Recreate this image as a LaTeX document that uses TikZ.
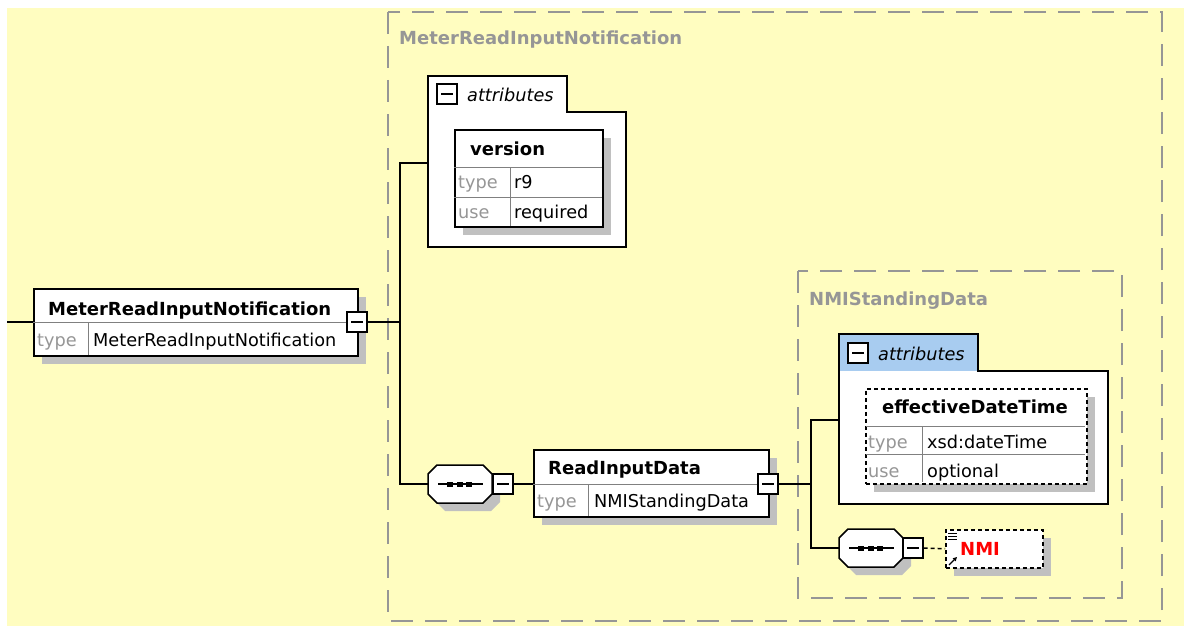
\documentclass[tikz,border=0pt]{standalone}
\usepackage{fontspec}
\setmainfont{DejaVu Sans}
\usetikzlibrary{shadows,arrows.meta}
\definecolor{bgy}{RGB}{255,253,192}
\definecolor{shadc}{RGB}{192,192,192}
\definecolor{tabblue}{RGB}{168,204,240}
\definecolor{dgray}{RGB}{150,150,150}
\definecolor{lgray}{RGB}{150,150,150}
\definecolor{nmired}{RGB}{255,0,0}
\newcommand{\octpath}[4]{(#1+9,#2) -- (#3-9,#2) -- (#3,#2+9) -- (#3,#4-9) -- (#3-9,#4) -- (#1+9,#4) -- (#1,#4-9) -- (#1,#2+9) -- cycle}
\begin{document}
\begin{tikzpicture}[x=1pt,y=-1pt,
  conn/.style={line width=1.5pt, black},
  outl/.style={draw=black, line width=1.5pt},
  box/.style={draw=black, fill=white, line width=1.5pt, inner sep=0pt, anchor=north west},
  dbox/.style={box, dash pattern=on 4pt off 3pt},
  shad/.style={drop shadow={shadow xshift=8pt, shadow yshift=-8pt, fill=shadc, opacity=1}},
  grp/.style={draw=dgray, line width=2pt, dash pattern=on 22pt off 12pt},
  inner/.style={draw=gray, line width=1pt},
  minus/.style={draw=black, fill=white, line width=1.3pt, inner sep=0pt, minimum size=20pt},
  anchorbox/.style={inner sep=0pt, minimum width=64pt, minimum height=38pt},
  tb/.style={font=\fontsize{18}{20}\selectfont\bfseries, inner sep=0pt, anchor=base west},
  tr/.style={font=\fontsize{17.7}{20}\selectfont, inner sep=0pt, anchor=base west},
  tg/.style={tr, text=lgray},
  ttl/.style={tb, text=dgray},
  ti/.style={font=\fontsize{17.7}{20}\selectfont\itshape, inner sep=0pt, anchor=base west}
]
\useasboundingbox (0,0) rectangle (1184,626);
\fill[white] (0,0) rectangle (1184,626);
\fill[bgy] (7,8) rectangle (1184,626);

% group boxes
\draw[grp] (388,12) rectangle (1162,621);
\node[ttl] (g1lab) at (399,45) {MeterReadInputNotification};
\draw[grp] (798,271) rectangle (1122,598);
\node[ttl] (g2lab) at (809,305) {NMIStandingData};

% main element
\node[box, shad, minimum width=324pt, minimum height=67pt] (main) at (33,288) {};
\draw[inner] (33,322) -- (357,322);
\draw[inner] (88,322) -- (88,355);
\node[tb] (maint) at (48,315) {MeterReadInputNotification};
\node[tg] (maintt) at (37,346) {type};
\node[tr] (maintv) at (93,346) {MeterReadInputNotification};
\node[minus] (mainminus) at (357,322) {\raisebox{-0.75pt}{\rule{12pt}{1.5pt}}};

% attributes 1
\draw[outl, fill=white] (428,76) -- (567,76) -- (567,112) -- (626,112) -- (626,247) -- (428,247) -- cycle;
\node[minus] (a1minus) at (447,94) {\raisebox{-0.75pt}{\rule{12pt}{1.5pt}}};
\node[ti] (a1lab) at (467,101) {attributes};
\node[box, shad, minimum width=148pt, minimum height=97pt] (ver) at (454,129) {};
\draw[inner] (454,167) -- (602,167);
\draw[inner] (454,197) -- (602,197);
\draw[inner] (510,167) -- (510,226);
\node[tb] (vert) at (470,155) {version};
\node[tg] (vertt) at (458,188) {type};
\node[tr] (vertv) at (514,188) {r9};
\node[tg] (verut) at (458,218) {use};
\node[tr] (veruv) at (514,218) {required};

% sequence 1
\fill[shadc] \octpath{436}{473}{500}{511};
\draw[outl, fill=white] \octpath{428}{465}{492}{503};
\node[anchorbox] (seq1) at (460,484) {};
\draw[line width=1.3pt] (438,484) -- (483,484);
\foreach \cx in {450,460,469} \fill (\cx-3,481.5) rectangle (\cx+3,486.5);
\node[minus] (seq1minus) at (503,484) {\raisebox{-0.75pt}{\rule{12pt}{1.5pt}}};

% ReadInputData
\node[box, shad, minimum width=235pt, minimum height=67pt] (rid) at (533,449) {};
\draw[inner] (533,484) -- (768,484);
\draw[inner] (588,484) -- (588,516);
\node[tb] (ridt) at (548,474) {ReadInputData};
\node[tg] (ridtt) at (537,507) {type};
\node[tr] (ridtv) at (594,507) {NMIStandingData};
\node[minus] (ridminus) at (768,484) {\raisebox{-0.75pt}{\rule{12pt}{1.5pt}}};

% attributes 2
\fill[white] (839,334) -- (978,334) -- (978,371) -- (1108,371) -- (1108,504) -- (839,504) -- cycle;
\fill[tabblue] (839,334) rectangle (978,371);
\draw[outl] (839,334) -- (978,334) -- (978,371) -- (1108,371) -- (1108,504) -- (839,504) -- cycle;
\node[minus] (a2minus) at (858,353) {\raisebox{-0.75pt}{\rule{12pt}{1.5pt}}};
\node[ti] (a2lab) at (878,360) {attributes};
\node[dbox, shad, minimum width=221pt, minimum height=95pt] (edt) at (865,388) {};
\draw[inner] (866,426) -- (1085,426);
\draw[inner] (866,454) -- (1085,454);
\draw[inner] (922,426) -- (922,482);
\node[tb] (edtt) at (882,413) {effectiveDateTime};
\node[tg] (edttt) at (868,448) {type};
\node[tr] (edttv) at (927,448) {xsd:dateTime};
\node[tg] (edtut) at (868,477) {use};
\node[tr] (edtuv) at (927,477) {optional};

% sequence 2
\fill[shadc] \octpath{847}{537}{911}{575};
\draw[outl, fill=white] \octpath{839}{529}{903}{567};
\node[anchorbox] (seq2) at (871,548) {};
\draw[line width=1.3pt] (849,548) -- (894,548);
\foreach \cx in {861,871,880} \fill (\cx-3,545.5) rectangle (\cx+3,550.5);
\node[minus] (seq2minus) at (913,548) {\raisebox{-0.75pt}{\rule{12pt}{1.5pt}}};

% NMI
\node[dbox, shad, minimum width=97pt, minimum height=38pt] (nmi) at (945,529) {};
\foreach \ly in {533,536,539} \draw[line width=1pt] (948,\ly) -- (957,\ly);
\draw[line width=1.3pt, -{Triangle[length=4pt,width=4pt]}] (949,565) -- (957,557);
\node[tb, text=nmired] (nmit) at (960,555) {NMI};

% connectors
\coordinate (lin) at (7,322);
\coordinate (j1) at (400,322);
\coordinate (a1in) at (428,163);
\coordinate (j2) at (811,484);
\coordinate (a2in) at (839,420);
\draw[conn] (lin) -- (main.west |- lin);
\draw[conn] (mainminus.east) -- (j1);
\draw[conn] (a1in) -| (j1) |- (seq1.west);
\draw[conn] (seq1minus.east) -- (seq1minus.east -| rid.west);
\draw[conn] (ridminus.east) -- (j2);
\draw[conn] (a2in) -| (j2) |- (seq2.west);
\draw[conn, dash pattern=on 4pt off 3pt] (seq2minus.east) -- (nmi.west);
\end{tikzpicture}
\end{document}
